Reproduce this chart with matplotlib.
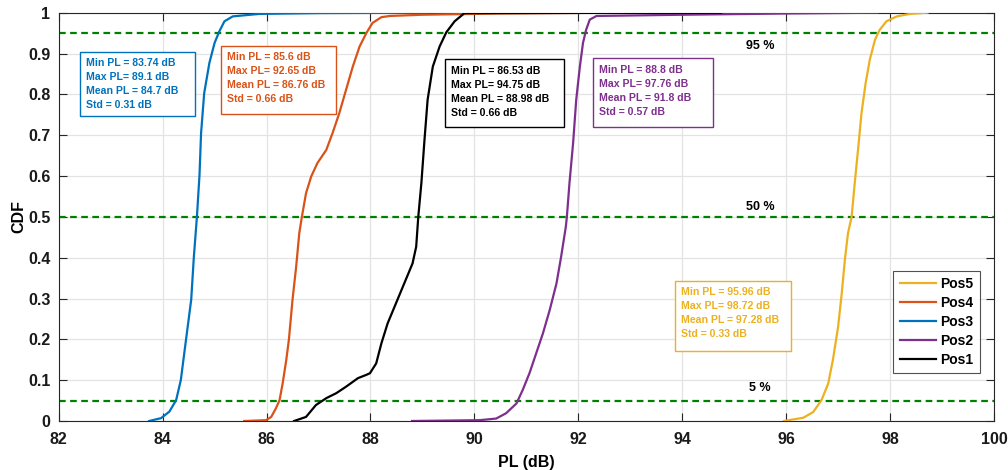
import matplotlib
matplotlib.use("Agg")
import matplotlib.pyplot as plt
from matplotlib.patches import Rectangle

# ---------------- data ----------------
pos3_pl = [83.74, 83.97, 84.13, 84.26, 84.35, 84.45, 84.55, 84.60, 84.66, 84.71, 84.74, 84.80,
           84.90, 85.00, 85.09, 85.19, 85.35, 85.86, 87.0, 89.1]
pos3_cdf = [0.0, 0.007, 0.023, 0.051, 0.10, 0.199, 0.297, 0.40, 0.50, 0.603, 0.705, 0.803,
            0.877, 0.926, 0.954, 0.979, 0.991, 0.997, 0.999, 1.0]

pos4_pl = [85.57, 85.99, 86.09, 86.18, 86.25, 86.31, 86.38, 86.43, 86.50, 86.57, 86.63, 86.68,
           86.76, 86.86, 86.98, 87.15, 87.27, 87.40, 87.53, 87.66, 87.79, 87.92, 88.04, 88.21,
           88.37, 89.0, 90.5, 92.65]
pos4_cdf = [0.0, 0.002, 0.01, 0.031, 0.051, 0.092, 0.15, 0.199, 0.297, 0.378, 0.46, 0.50,
            0.558, 0.599, 0.632, 0.664, 0.705, 0.754, 0.811, 0.868, 0.917, 0.95, 0.975, 0.989,
            0.992, 0.995, 0.998, 1.0]

pos1_pl = [86.53, 86.76, 86.95, 87.15, 87.34, 87.53, 87.76, 87.92, 87.99, 88.11, 88.21, 88.33,
           88.49, 88.65, 88.81, 88.88, 88.92, 88.98, 89.04, 89.10, 89.20, 89.33, 89.46, 89.62,
           89.81, 94.75]
pos1_cdf = [0.0, 0.01, 0.039, 0.056, 0.068, 0.084, 0.105, 0.113, 0.117, 0.141, 0.19, 0.239,
            0.288, 0.337, 0.386, 0.427, 0.50, 0.583, 0.689, 0.787, 0.868, 0.917, 0.952, 0.979,
            0.999, 1.0]

pos2_pl = [88.8, 90.1, 90.42, 90.61, 90.81, 90.93, 91.06, 91.19, 91.32, 91.45, 91.58, 91.67,
           91.76, 91.78, 91.83, 91.90, 91.96, 92.03, 92.09, 92.15, 92.22, 92.35, 94.0, 96.0, 97.76]
pos2_cdf = [0.0, 0.002, 0.006, 0.019, 0.043, 0.076, 0.117, 0.166, 0.215, 0.272, 0.337, 0.403,
            0.476, 0.50, 0.583, 0.681, 0.787, 0.868, 0.926, 0.958, 0.983, 0.992, 0.995, 0.998, 1.0]

pos5_pl = [95.96, 96.33, 96.52, 96.68, 96.81, 96.90, 97.00, 97.07, 97.13, 97.19, 97.26, 97.32,
           97.39, 97.45, 97.53, 97.61, 97.71, 97.80, 97.93, 98.13, 98.38, 98.72]
pos5_cdf = [0.0, 0.008, 0.022, 0.051, 0.092, 0.15, 0.231, 0.313, 0.395, 0.46, 0.50, 0.583,
            0.673, 0.754, 0.828, 0.885, 0.934, 0.958, 0.979, 0.991, 0.997, 1.0]

levels = [0.05, 0.5, 0.95]
level_labels = ["5 %", "50 %", "95 %"]
level_label_y = [0.081, 0.5245, 0.919]

stats_pos3 = ["Min PL = 83.74 dB", "Max PL= 89.1 dB", "Mean PL = 84.7 dB", "Std = 0.31 dB"]
stats_pos4 = ["Min PL = 85.6 dB", "Max PL= 92.65 dB", "Mean PL = 86.76 dB", "Std = 0.66 dB"]
stats_pos1 = ["Min PL = 86.53 dB", "Max PL= 94.75 dB", "Mean PL = 88.98 dB", "Std = 0.66 dB"]
stats_pos2 = ["Min PL = 88.8 dB", "Max PL= 97.76 dB", "Mean PL = 91.8 dB", "Std = 0.57 dB"]
stats_pos5 = ["Min PL = 95.96 dB", "Max PL= 98.72 dB", "Mean PL = 97.28 dB", "Std = 0.33 dB"]

xticks = [82, 84, 86, 88, 90, 92, 94, 96, 98, 100]
yticks = [0, 0.1, 0.2, 0.3, 0.4, 0.5, 0.6, 0.7, 0.8, 0.9, 1]
ytick_labels = ["0", "0.1", "0.2", "0.3", "0.4", "0.5", "0.6", "0.7", "0.8", "0.9", "1"]

C_BLUE = "#0072BD"
C_ORANGE = "#D95319"
C_YELLOW = "#EDB120"
C_PURPLE = "#7E2F8E"
C_BLACK = "#000000"

plt.rcParams['font.family'] = ['Liberation Sans', 'DejaVu Sans']
plt.rcParams['font.weight'] = 'bold'

W, H = 1008, 470
fig = plt.figure(figsize=(W / 100, H / 100), dpi=100)
ax = fig.add_axes([58.7 / W, 1 - 421 / H, (994 - 58.7) / W, (421 - 12.7) / H])

lw = 1.6
l5, = ax.plot(pos5_pl, pos5_cdf, color=C_YELLOW, lw=lw, label="Pos5", zorder=3)
l4, = ax.plot(pos4_pl, pos4_cdf, color=C_ORANGE, lw=lw, label="Pos4", zorder=3)
l3, = ax.plot(pos3_pl, pos3_cdf, color=C_BLUE, lw=lw, label="Pos3", zorder=3)
l2, = ax.plot(pos2_pl, pos2_cdf, color=C_PURPLE, lw=lw, label="Pos2", zorder=3)
l1, = ax.plot(pos1_pl, pos1_cdf, color=C_BLACK, lw=lw, label="Pos1", zorder=3)

for lv, lab, ly in zip(levels, level_labels, level_label_y):
    ax.axhline(lv, color="#008000", lw=1.6, ls=(0, (3.0, 2.0)), zorder=2)
    ax.text(95.5, ly, lab, ha="center", va="center",
            fontsize=9, fontweight="bold", color="#000000")

ax.set_xlim(82, 100)
ax.set_ylim(0, 1)
ax.set_xticks(xticks)
ax.set_xticklabels([str(t) for t in xticks])
ax.set_yticks(yticks)
ax.set_yticklabels(ytick_labels)
ax.grid(True, color="#e3e3e3", lw=0.9, zorder=0)
ax.set_axisbelow(True)
ax.tick_params(direction="in", length=6, width=0.8, top=True, right=True,
               labelsize=11.5, colors="#262626")
ax.tick_params(axis="x", pad=8)
ax.tick_params(axis="y", pad=6)
for lab in ax.get_xticklabels() + ax.get_yticklabels():
    lab.set_fontweight("bold")
    lab.set_color("#1a1a1a")
for sp in ax.spines.values():
    sp.set_color("#262626")
    sp.set_linewidth(0.8)

ax.set_xlabel("PL (dB)", fontsize=11.5, fontweight="bold", labelpad=6)
ax.set_ylabel("CDF", fontsize=11.5, fontweight="bold", labelpad=1)

leg = ax.legend(handles=[l5, l4, l3, l2, l1], loc="lower right",
                bbox_to_anchor=((980 - 58.7) / (994 - 58.7), (421 - 373.3) / 408.3),
                prop={"weight": "bold", "size": 10}, frameon=True, fancybox=False,
                handlelength=2.6, handletextpad=0.35, labelspacing=0.36,
                borderpad=0.45, borderaxespad=0)
leg.get_frame().set_edgecolor("#262626")
leg.get_frame().set_linewidth(0.8)


def px2fig(px, py):
    return px / W, 1 - py / H


def stat_box(x0, y0, x1, y1, tx, ys, lines, color):
    fx0, fy1 = px2fig(x0, y1)
    fx1, fy0 = px2fig(x1, y0)
    fig.add_artist(Rectangle((fx0, fy1), fx1 - fx0, fy0 - fy1, transform=fig.transFigure,
                             facecolor="white", edgecolor=color, lw=1.0, zorder=5))
    for y, s in zip(ys, lines):
        fxt, fyt = px2fig(tx, y)
        fig.text(fxt, fyt, s, ha="left", va="center", fontsize=7.6, fontweight="bold",
                 color=color, zorder=6)


stat_box(80, 51.7, 195, 116, 86, [62.7, 76.7, 90.7, 105], stats_pos3, C_BLUE)
stat_box(220.7, 46, 336, 114.3, 226.7, [56.7, 71, 85, 99.3], stats_pos4, C_ORANGE)
stat_box(444.7, 59.3, 564.3, 127.3, 450.7, [71, 85, 99, 113.3], stats_pos1, C_BLACK)
stat_box(592.7, 58.3, 712.7, 127.3, 598.7, [70.3, 84.3, 98.3, 112.3], stats_pos2, C_PURPLE)
stat_box(675, 280.7, 790.7, 351, 681, [292.3, 306, 320.3, 334], stats_pos5, C_YELLOW)

fig.savefig("out.png", dpi=100)
